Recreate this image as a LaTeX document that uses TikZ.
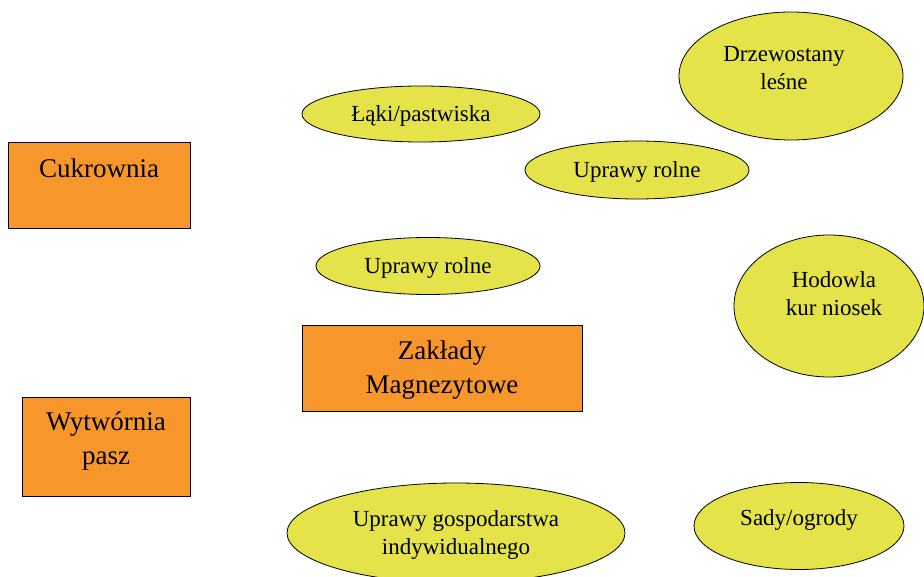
\documentclass[tikz,border=0pt]{standalone}
\usepackage{fontspec}
\setmainfont{Liberation Serif}
\usetikzlibrary{shapes.geometric}
\definecolor{boxorange}{HTML}{F7962B}
\definecolor{ovalyellow}{HTML}{E5E34A}
\tikzset{
  plant/.style={draw=black, line width=0.8pt, fill=boxorange, rectangle, inner sep=0pt},
  field/.style={draw=black, line width=0.8pt, fill=ovalyellow, ellipse, inner sep=0pt},
  bigtext/.style={font=\fontsize{27}{34}\selectfont, align=center, inner sep=0pt},
  smalltext/.style={font=\fontsize{23}{28}\selectfont, align=center, inner sep=0pt}
}
\begin{document}
\begin{tikzpicture}[x=1pt, y=-1pt]
\useasboundingbox (0,0) rectangle (924,577);
% industrial plants
\node[plant, minimum width=182pt, minimum height=86pt] (cukB) at (99,185) {};
\node[bigtext] (cukT) at (99,168) {Cukrownia};
\node[plant, minimum width=280pt, minimum height=86pt] (magB) at (442,368) {};
\node[bigtext] (magT) at (442,370) {Zakłady\\Magnezytowe};
\node[plant, minimum width=168pt, minimum height=99pt] (wytB) at (106,447) {};
\node[bigtext] (wytT) at (106,441) {Wytwórnia\\pasz};
% agricultural and forest areas
\node[field, minimum width=238pt, minimum height=56pt] (lakB) at (421,114) {};
\node[smalltext] (lakT) at (421,116) {Łąki/pastwiska};
\node[field, minimum width=224pt, minimum height=58pt] (ur1B) at (637,170) {};
\node[smalltext] (ur1T) at (637,172) {Uprawy rolne};
\node[field, minimum width=224pt, minimum height=128pt] (drzB) at (791,76) {};
\node[smalltext] (drzT) at (784,68) {Drzewostany\\leśne};
\node[field, minimum width=224pt, minimum height=57pt] (ur2B) at (428,266) {};
\node[smalltext] (ur2T) at (428,268) {Uprawy rolne};
\node[field, minimum width=190pt, minimum height=142pt] (hodB) at (829,306) {};
\node[smalltext] (hodT) at (834,294) {Hodowla\\kur niosek};
\node[field, minimum width=338pt, minimum height=100pt] (ugiB) at (456,533) {};
\node[smalltext] (ugiT) at (456,535) {Uprawy gospodarstwa\\indywidualnego};
\node[field, minimum width=210pt, minimum height=87pt] (sadB) at (799,526) {};
\node[smalltext] (sadT) at (799,520) {Sady/ogrody};
\end{tikzpicture}
\end{document}
